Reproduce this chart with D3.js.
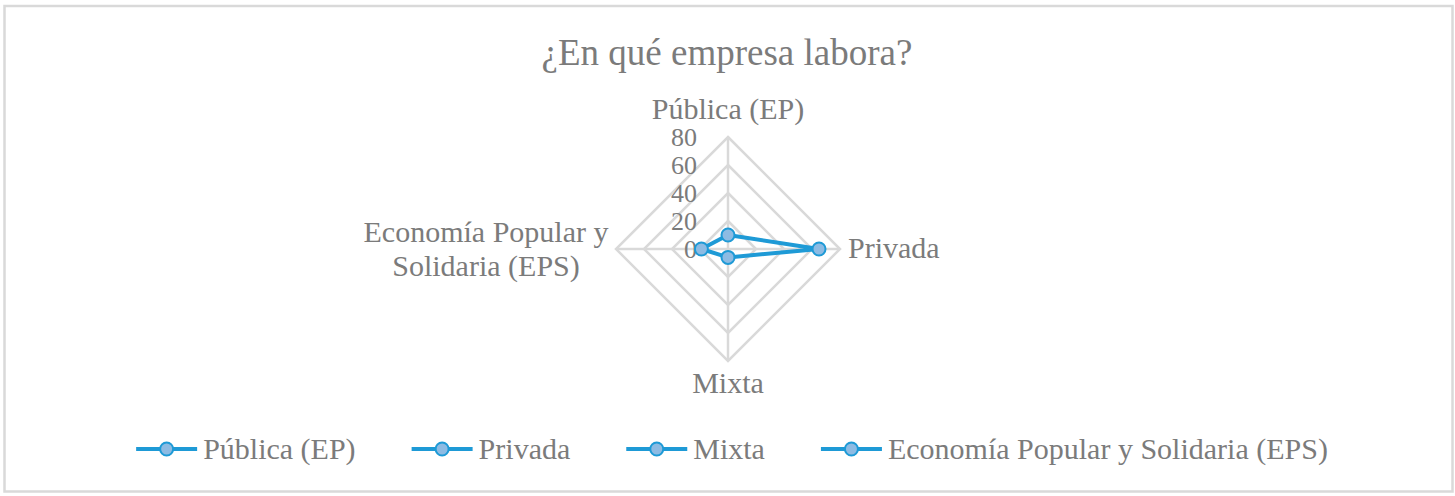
<!DOCTYPE html>
<html><head><meta charset="utf-8">
<script src="https://cdn.jsdelivr.net/npm/d3@7"></script>
<style>body{margin:0;background:#fff}svg{display:block}</style>
</head><body>
<svg id="chart" width="1455" height="496"></svg>
<script>
const categories = ["Pública (EP)", "Privada", "Mixta", "Economía Popular y Solidaria (EPS)"];
const axisLabels = [["Pública (EP)"], ["Privada"], ["Mixta"], ["Economía Popular y", "Solidaria (EPS)"]];
const values = [10, 65, 6, 19];
const tickValues = [0, 20, 40, 60, 80];
const title = "¿En qué empresa labora?";

const W = 1455, H = 496;
const cx = 728, cy = 249, R = 112;
const lineColor = "#1e9ad6", markerFill = "#8dbbe3", gridColor = "#d9d9d9", textColor = "#7b7b7b";
const font = "'Times New Roman','Liberation Serif',Times,serif";

const svg = d3.select("#chart");
svg.append("rect").attr("x", 4.5).attr("y", 6).attr("width", 1448).attr("height", 485.5)
  .attr("fill", "#fff").attr("stroke", "#d9d9d9").attr("stroke-width", 2.5);

svg.append("text").attr("x", 727).attr("y", 65).attr("text-anchor", "middle")
  .attr("font-family", font).attr("font-size", 37).attr("fill", textColor).text(title);

const r = d3.scaleLinear().domain([0, 80]).range([0, R]);
const angle = d3.scalePoint().domain(categories).range([0, 2 * Math.PI * 3 / 4]);
const pt = (c, v) => {
  const a = angle(c);
  return [cx + r(v) * Math.sin(a), cy - r(v) * Math.cos(a)];
};

const g = svg.append("g");
tickValues.filter(t => t > 0).forEach(t => {
  g.append("path").attr("d", d3.line()(categories.map(c => pt(c, t))) + "Z")
    .attr("fill", "none").attr("stroke", gridColor).attr("stroke-width", 2.5);
});
categories.forEach(c => {
  g.append("line").attr("x1", cx).attr("y1", cy)
    .attr("x2", pt(c, 80)[0]).attr("y2", pt(c, 80)[1])
    .attr("stroke", gridColor).attr("stroke-width", 2.5);
});
tickValues.forEach(t => {
  g.append("text").attr("x", 697).attr("y", cy - r(t)).attr("dy", "0.36em")
    .attr("text-anchor", "end").attr("font-family", font).attr("font-size", 26)
    .attr("fill", textColor).text(t);
});
const labPos = [
  {x: cx, y: 119, anchor: "middle"},
  {x: 848, y: 258, anchor: "start"},
  {x: cx, y: 393, anchor: "middle"},
  {x: 486, y: 242, anchor: "middle"}
];
axisLabels.forEach((lines, i) => {
  const t = g.append("text").attr("font-family", font).attr("font-size", 30)
    .attr("fill", textColor).attr("text-anchor", labPos[i].anchor);
  lines.forEach((l, j) => t.append("tspan").attr("x", labPos[i].x).attr("y", labPos[i].y + j * 34).text(l));
});

const pts = categories.map((c, i) => pt(c, values[i]));
g.append("path").attr("d", d3.line()(pts) + "Z").attr("fill", "none")
  .attr("stroke", lineColor).attr("stroke-width", 4).attr("stroke-linejoin", "round");
g.selectAll("circle.m").data(pts).enter().append("circle")
  .attr("cx", d => d[0]).attr("cy", d => d[1]).attr("r", 6.5)
  .attr("fill", markerFill).attr("stroke", lineColor).attr("stroke-width", 2);

const leg = svg.append("g");
const symW = 61, gap = 6, spacing = 56, ly = 449;
const items = categories.map(c => {
  const it = leg.append("g");
  const tx = it.append("text").attr("font-family", font).attr("font-size", 30)
    .attr("fill", textColor).attr("x", symW + gap).attr("y", ly).attr("dy", "0.34em").text(c);
  return {g: it, w: tx.node().getComputedTextLength()};
});
const total = d3.sum(items, d => symW + gap + d.w) + spacing * (items.length - 1);
let x = 732 - total / 2;
items.forEach(it => {
  it.g.attr("transform", `translate(${x},0)`);
  it.g.append("line").attr("x1", 0).attr("x2", symW).attr("y1", ly).attr("y2", ly)
    .attr("stroke", lineColor).attr("stroke-width", 4);
  it.g.append("circle").attr("cx", symW / 2).attr("cy", ly).attr("r", 6.5)
    .attr("fill", markerFill).attr("stroke", lineColor).attr("stroke-width", 2);
  x += symW + gap + it.w + spacing;
});
</script>
</body></html>
